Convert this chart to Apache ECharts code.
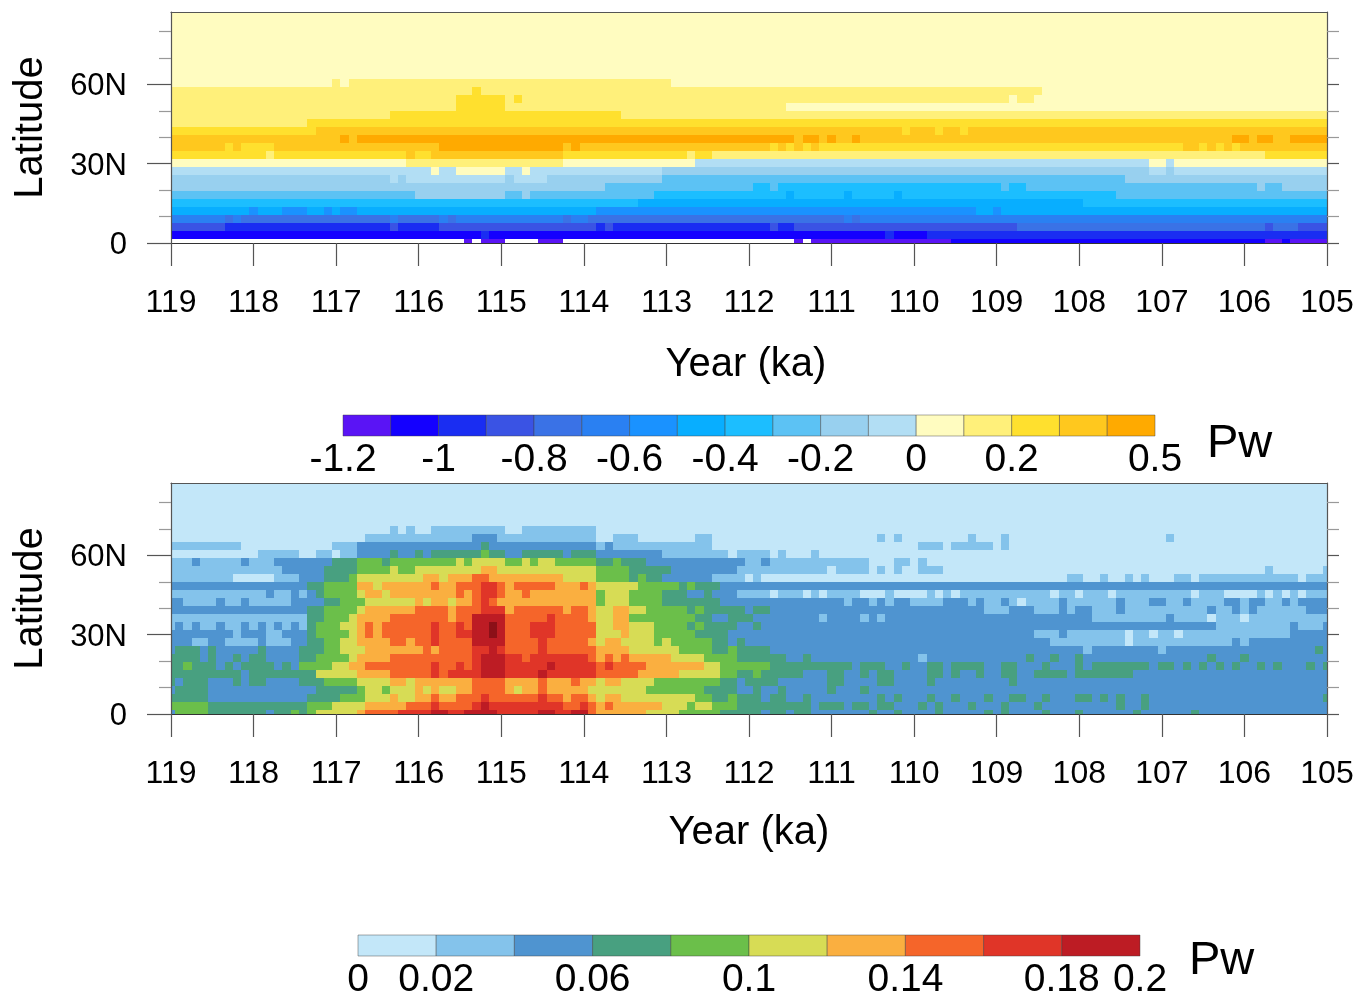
<!DOCTYPE html>
<html><head><meta charset="utf-8">
<style>html,body{margin:0;padding:0;background:#fff}#c{width:1357px;height:997px}</style>
<script src="https://cdn.jsdelivr.net/npm/echarts@6/dist/echarts.min.js"></script>
</head><body><div id="c"></div>
<script>
const years=[119,118.9,118.8,118.7,118.6,118.5,118.4,118.3,118.2,118.1,118,117.9,117.8,117.7,117.6,117.5,117.4,117.3,117.2,117.1,117,116.9,116.8,116.7,116.6,116.5,116.4,116.3,116.2,116.1,116,115.9,115.8,115.7,115.6,115.5,115.4,115.3,115.2,115.1,115,114.9,114.8,114.7,114.6,114.5,114.4,114.3,114.2,114.1,114,113.9,113.8,113.7,113.6,113.5,113.4,113.3,113.2,113.1,113,112.9,112.8,112.7,112.6,112.5,112.4,112.3,112.2,112.1,112,111.9,111.8,111.7,111.6,111.5,111.4,111.3,111.2,111.1,111,110.9,110.8,110.7,110.6,110.5,110.4,110.3,110.2,110.1,110,109.9,109.8,109.7,109.6,109.5,109.4,109.3,109.2,109.1,109,108.9,108.8,108.7,108.6,108.5,108.4,108.3,108.2,108.1,108,107.9,107.8,107.7,107.6,107.5,107.4,107.3,107.2,107.1,107,106.9,106.8,106.7,106.6,106.5,106.4,106.3,106.2,106.1,106,105.9,105.8,105.7,105.6,105.5,105.4,105.3,105.2,105.1,105];
const lats=[0,3.03,6.06,9.09,12.12,15.15,18.18,21.21,24.24,27.27,30.3,33.33,36.36,39.39,42.42,45.45,48.48,51.51,54.54,57.57,60.6,63.63,66.66,69.69,72.72,75.75,78.78,81.81,84.84,87.87];
const xTickYears=[119,118,117,116,115,114,113,112,111,110,109,108,107,106,105];
const latTicks=[0,30,60];
const topEdges=[-1.2,-1.1,-1,-0.9,-0.8,-0.7,-0.6,-0.5,-0.4,-0.3,-0.2,-0.1,0,0.1,0.2,0.3,0.4,0.5];
const topLabels=[-1.2,-1,-0.8,-0.6,-0.4,-0.2,0,0.2,0.5];
const bottomEdges=[0,0.02,0.04,0.06,0.08,0.1,0.12,0.14,0.16,0.18,0.2];
const bottomLabels=[0,0.02,0.06,0.1,0.14,0.18,0.2];
const topColors=['#5a14f5','#1400ff','#1a2df2','#3a53e4','#3a72e6','#2a80f2','#1a92ff','#08aeff','#1cbeff','#5cc2f4','#98d0ef','#b2def4','#fffcc0','#fff07a','#ffe02e','#ffc81e','#ffaa00'];
const bottomColors=['#c3e7f9','#84c3eb','#4f94d0','#48a080','#6bbf4a','#d7dc55','#faaf40','#f5652a','#e03528','#bd1c24','#8c1018'];
/* each row: first column, contour bin, first column, contour bin ... (row 0 = equator, null = no fill) */
const topRuns=[
[0,null,36,0,37,null,38,0,41,null,45,0,48,null,76,0,77,null,78,0,95,1,133,0,135,1,136,0],
[0,1,38,2,39,1,87,2,88,1,92,2],
[0,3,7,2,27,3,28,2,33,3,52,2,53,3,54,2,73,3,74,2,76,3,103,4,133,3,134,4,137,3],
[0,5,7,4,8,5,9,4,27,5,28,4,33,5,34,4,35,5,48,4,49,5,51,4,82,5,83,4,84,5],
[0,7,10,6,11,7,14,6,17,7,19,6,20,7,21,6,23,7,52,6,98,7,100,6,101,7],
[0,8,57,7,111,8],
[0,9,30,10,41,9,43,10,44,9,59,8,75,7,76,8,82,7,83,8,88,7,89,8,115,9],
[0,10,53,9,71,8,73,9,74,8,101,9,102,8,104,9,132,10,133,9,135,10],
[0,10,27,11,28,10,29,11,41,10,42,11,46,10,60,9,116,10],
[0,11,32,12,33,11,35,12,41,11,43,12,44,11,60,10,119,11,121,10,122,11],
[0,12,29,13,48,12,64,11,119,12,121,11,122,12],
[0,14,12,13,13,14,29,15,30,14,32,15,48,14,63,13,64,14,66,13,133,14],
[0,15,7,14,8,15,9,14,13,15,33,16,48,15,49,16,50,15,73,14,74,15,75,14,76,15,77,14,78,15,79,14,123,15,125,14,126,15,127,14,128,15,129,14,130,15],
[0,15,21,16,22,15,23,16,76,15,77,16,79,15,80,16,81,15,83,16,84,15,129,16,131,15,132,16,134,15,136,16],
[0,14,18,15,89,14,90,15,93,14,94,15,96,14,97,15],
[0,13,17,14],
[0,13,27,14,55,13],
[0,13,35,14,41,13,75,12],
[0,13,35,14,41,13,42,14,43,13,102,12,103,13,105,12],
[0,13,37,14,38,13,106,12],
[0,12,20,13,21,12,22,13,61,12],
[0,12],[0,12],[0,12],[0,12],[0,12],[0,12],[0,12],[0,12],[0,12]
];
const bottomRuns=[
[0,2,1,4,5,3,12,2,13,3,15,4,16,3,17,4,18,5,23,6,24,7,28,8,32,9,34,8,36,9,40,8,45,9,47,8,49,9,51,7,52,6,58,5,62,4,67,3,72,2,73,3,75,2,76,3,78,2,85,3,86,2,88,3,89,2,93,3,94,2,99,3,100,2,101,3,102,2,106,3,107,2,110,3,111,2,117,3,118,2,124,3,125,2],
[0,4,5,3,17,4,20,5,24,6,29,7,32,8,33,7,37,8,38,9,39,8,48,7,50,8,51,7,52,6,53,7,54,6,60,5,63,4,64,5,66,4,69,3,78,2,79,3,82,2,83,3,85,2,86,3,88,2,91,3,92,2,93,3,94,2,97,3,98,2,101,3,102,2,105,3,106,2,115,3,116,2,118,3,119,2],
[0,3,5,2,17,3,21,4,24,5,27,6,28,5,30,6,32,7,33,6,35,7,38,8,39,7,45,8,46,7,48,6,49,7,51,6,52,5,53,6,55,5,64,4,66,3,68,4,69,3,72,2,73,3,75,2,77,3,78,2,86,3,87,2,88,3,89,2,92,3,93,2,95,3,96,2,99,3,100,2,102,3,104,2,106,3,107,2,110,3,112,2,113,3,114,2,115,3,116,2,118,3,119,2,140,3],
[0,2,1,3,5,2,18,3,23,4,24,5,26,4,27,5,30,6,31,5,32,6,33,5,35,6,37,7,41,6,42,5,43,6,45,7,46,6,51,5,58,4,65,3,69,2,71,3,72,2,74,3,75,2,80,3,81,2,84,3,85,2],
[0,3,1,2,2,3,5,2,8,3,9,2,10,3,12,2,16,3,19,4,23,5,27,6,29,5,30,6,37,7,41,6,45,7,46,6,49,7,50,6,52,5,53,6,55,5,59,4,67,3,69,2,70,3,74,2,80,3,82,2,86,3,88,2,92,3,93,2,102,3,103,2],
[0,3,9,2,10,3,18,5,23,6,27,7,32,8,33,7,34,8,38,9,41,8,45,9,46,8,52,7,57,6,62,5,67,4,69,3,71,4,72,3,77,2,80,3,82,2,84,3,85,2,86,3,88,2,92,3,94,2,95,3,96,2,98,3,99,2,101,3,103,2,105,3,109,2,110,3,117,2],
[0,3,2,4,3,3,6,2,7,3,8,2,9,3,13,2,14,3,15,2,16,4,20,5,22,6,24,7,32,8,33,7,35,8,36,7,37,8,38,9,41,8,46,9,47,8,52,7,53,8,54,7,58,6,65,5,67,4,73,3,83,2,84,3,87,2,89,3,90,2,92,3,94,2,95,3,99,2,101,3,103,2,106,3,107,2,110,3,111,2,112,3,119,2,120,3,122,2,123,3,124,2,125,3,126,2,127,3,128,2,129,3,130,2,132,3,133,2,134,3,135,2,138,3,139,2,140,3],
[0,3,4,2,5,3,6,2,8,3,9,2,10,3,12,2,16,3,18,4,22,5,23,6,27,7,37,8,38,9,41,8,43,7,44,8,51,7,52,6,53,7,54,6,55,7,56,6,61,5,65,4,69,3,75,2,77,3,78,2,91,1,92,2,104,3,105,2,107,3,108,2,110,3,111,2,126,3,127,2,130,3,131,2],
[0,2,1,3,4,2,5,3,6,2,11,3,12,2,16,3,19,4,21,5,24,6,31,7,32,6,33,7,37,8,39,9,40,8,41,7,45,8,46,7,52,6,56,5,62,4,66,3,68,4,69,3,73,2,111,1,112,2,120,1,121,2,139,3,140,2],
[0,2,3,1,5,2,7,1,11,2,12,1,15,2,17,3,19,4,21,5,23,6,27,7,29,6,30,7,32,8,33,7,37,9,41,7,45,8,46,7,51,6,52,5,53,6,55,5,59,4,60,5,61,4,66,3,68,2,69,3,70,2,107,1,116,0,117,1,129,2,130,1,131,2],
[0,2,8,1,9,2,12,1,14,2,17,3,18,4,22,5,23,6,24,7,25,6,26,7,32,8,33,7,35,8,37,9,39,10,40,9,41,7,44,8,47,7,52,5,55,6,56,5,59,4,64,3,68,2,105,1,108,2,109,1,116,0,117,1,119,0,120,1,122,0,123,1,136,2],
[0,1,1,2,2,1,3,2,4,1,6,2,7,1,9,2,10,1,11,2,12,1,13,2,14,1,15,2,16,1,17,3,18,4,21,5,23,6,24,7,25,6,26,7,32,8,33,7,35,8,36,7,37,9,39,10,40,9,41,7,44,8,47,7,52,5,54,6,56,5,59,4,63,3,64,4,65,3,69,2,71,3,72,2,127,1,136,2,137,1,140,2],
[0,1,17,3,19,4,22,5,23,6,27,7,34,6,35,7,37,9,41,7,46,8,47,7,51,6,52,5,54,6,56,4,64,3,66,2,68,3,71,2,79,1,80,2,84,1,85,2,86,1,87,2,112,1,121,2,122,1,126,0,127,1,130,0,131,1],
[0,2,17,3,19,4,23,5,24,6,30,7,34,6,35,7,38,8,41,6,42,7,48,6,49,7,51,6,52,5,54,6,56,5,58,4,63,3,64,4,65,3,70,2,71,3,73,2,99,1,102,2,105,1,108,2,109,1,110,2,112,1,115,2,116,1,126,2,127,1,129,2,130,1,131,2,132,1,138,2],
[0,2,2,1,6,2,7,1,9,2,10,1,15,2,19,3,21,4,24,5,30,6,31,5,32,6,34,5,35,6,37,7,38,8,39,7,40,6,52,4,53,5,56,4,60,3,67,2,82,1,83,2,85,1,86,2,87,1,88,2,90,1,94,2,97,1,98,2,99,1,101,2,102,1,103,0,104,1,108,2,109,1,115,2,116,1,119,2,121,1,123,2,124,1,128,2,130,1,131,2,133,1,135,2,136,1,137,2],
[0,1,12,2,13,1,15,2,16,1,17,2,18,3,19,4,23,5,24,6,26,5,27,6,35,7,36,6,37,7,38,8,40,7,41,6,43,7,44,6,52,4,53,5,56,4,60,3,63,2,65,3,66,2,69,1,73,0,74,1,77,0,78,1,79,0,80,1,84,0,87,1,88,0,92,1,93,0,94,1,95,0,96,1,107,0,108,1,110,0,111,1,114,0,115,1,124,0,125,1,128,0,132,1,133,0,134,1,135,0,136,1,137,0,138,1],
[0,2,17,3,19,4,23,6,25,5,26,6,32,7,33,6,35,7,38,8,40,7,41,6,42,7,47,6,50,7,51,6,52,5,57,4,62,3,63,4,64,3,67,2],
[0,1,8,0,13,1,16,2,19,3,22,4,23,5,31,6,33,5,34,6,37,7,39,6,48,5,52,4,56,3,57,4,58,3,60,2,66,1,70,0,71,1,72,0,109,1,111,0,113,1,114,0,116,1,117,0,118,1,119,0,122,1,124,0,125,1,137,0,138,1],
[0,1,14,2,19,3,23,4,27,5,28,4,30,5,38,6,40,5,52,4,56,3,61,2,69,1,80,0,81,1,85,0,86,1,87,0,88,1,89,0,91,1,94,0,133,1,134,0,140,1],
[0,1,3,2,4,1,9,2,10,1,13,2,20,3,23,4,26,3,27,4,35,5,36,4,37,5,41,4,43,5,44,4,45,5,47,4,52,3,54,4,55,3,58,2,70,1,72,2,73,1,85,0,88,1,90,0,91,1,92,0],
[0,0,11,1,16,0,18,1,20,0,21,1,23,2,27,3,28,2,30,3,31,2,32,3,38,4,39,3,41,2,43,3,48,2,49,3,52,2,60,1,68,0,69,1,73,0,74,1,75,0,78,1,79,0],
[0,1,9,0,20,1,23,2,38,3,39,2,52,1,53,2,54,1,66,0,91,1,94,0,95,1,100,0,101,1,102,0],
[0,0,24,1,37,2,40,1,52,0,54,1,57,0,64,1,66,0,86,1,87,0,88,1,89,0,97,1,98,0,101,1,102,0,121,1,122,0],
[0,0,27,1,28,0,29,1,30,0,32,1,41,0,43,1,52,0],
[0,0],[0,0],[0,0],[0,0],[0,0],[0,0]
];

function expand(runs){
  const out=[];
  runs.forEach((r,row)=>{
    for(let i=0;i<r.length;i+=2){
      const end=i+2<r.length?r[i+2]:years.length;
      if(r[i+1]===null)continue;
      for(let c=r[i];c<end;c++)out.push([years[c],lats[row],r[i+1]]);
    }
  });
  return out;
}
function cellItem(colors){
  return function(params,api){
    const x=api.value(0),y=api.value(1),bin=api.value(2);
    const a=api.coord([x+0.05,y+1.515]),b=api.coord([x-0.05,y-1.515]);
    const cs=params.coordSys;
    const shape=echarts.graphic.clipRectByRect(
      {x:a[0],y:a[1],width:b[0]-a[0],height:b[1]-a[1]},
      {x:cs.x,y:cs.y,width:cs.width,height:cs.height});
    if(!shape)return null;
    const x0=Math.round(shape.x),y0=Math.round(shape.y),x1=Math.round(shape.x+shape.width),y1=Math.round(shape.y+shape.height);
    return {type:'rect',shape:{x:x0,y:y0,width:x1-x0,height:y1-y0},style:{fill:colors[bin]}};
  };
}
function boxItem(colors){
  return function(params,api){
    const a=api.coord([api.value(0),1]),b=api.coord([api.value(1),0]);
    return {type:'rect',shape:{x:a[0],y:a[1],width:b[0]-a[0],height:b[1]-a[1]},
      style:{fill:colors[api.value(2)],stroke:'rgba(60,60,60,0.55)',lineWidth:0.8}};
  };
}
const FONT='"Liberation Sans",Arial,sans-serif';
const axisCol='#555';
function panelAxes(gi,xNamePad){
  return {
    x:{gridIndex:gi,type:'value',min:105,max:119,inverse:true,interval:1,position:'bottom',z:5,
      axisLine:{onZero:false,lineStyle:{color:'#333',width:1.2}},
      axisTick:{length:23,lineStyle:{color:axisCol,width:1.2},customValues:xTickYears},
      axisLabel:{margin:44,fontSize:32,color:'#000',fontFamily:FONT,customValues:xTickYears,formatter:v=>String(v)},
      splitLine:{show:false},
      name:'Year (ka)',nameLocation:'middle',nameGap:gi===0?102:99,
      nameTextStyle:{fontSize:40,color:'#000',fontFamily:FONT,padding:xNamePad}},
    yl:{gridIndex:gi,type:'value',min:0,max:87.4,interval:30,position:'left',z:5,
      axisLine:{show:true,onZero:false,lineStyle:{color:axisCol,width:1.2}},
      axisTick:{length:24,lineStyle:{color:axisCol,width:1.2},customValues:latTicks},
      minorTick:{show:true,splitNumber:3,length:12,lineStyle:{color:'#999',width:1.2}},
      axisLabel:{margin:44,color:'#000',customValues:latTicks,
        formatter:v=>'{a|'+(v===0?'0':v+'N')+'}',
        rich:{a:{fontSize:31,color:'#000',fontFamily:FONT,padding:[5,0,0,0]}}},
      splitLine:{show:false},
      name:'Latitude',nameLocation:'middle',nameRotate:90,nameGap:120,
      nameTextStyle:{fontSize:40,color:'#000',fontFamily:FONT}},
    yr:{gridIndex:gi,type:'value',min:0,max:87.4,interval:30,position:'right',z:5,
      axisLine:{show:true,onZero:false,lineStyle:{color:axisCol,width:1.2}},
      axisTick:{length:12,lineStyle:{color:axisCol,width:1.2},customValues:latTicks},
      minorTick:{show:true,splitNumber:3,length:12,lineStyle:{color:'#999',width:1.2}},
      axisLabel:{show:false},splitLine:{show:false}}
  };
}
const p0=panelAxes(0,[0,6,0,0]),p1=panelAxes(1,[0,0,0,0]);
function barX(gi,min,max,labels){
  return {gridIndex:gi,type:'value',min:min,max:max,position:'bottom',
    axisLine:{show:false},axisTick:{show:false},splitLine:{show:false},
    axisLabel:{show:true,margin:5,fontSize:39,color:'#000',fontFamily:FONT,customValues:labels,formatter:v=>String(v)}};
}
function barY(gi){return {gridIndex:gi,type:'value',min:0,max:1,show:false};}
function boxes(edges){return edges.slice(0,-1).map((e,i)=>[e,edges[i+1],i]);}
const chart=echarts.init(document.getElementById('c'),null,{renderer:'canvas'});
chart.setOption({
  animation:false,backgroundColor:'#fff',
  grid:[
    {left:171,top:12,width:1156,height:231,outerBoundsMode:'none'},
    {left:171,top:483,width:1156,height:231,outerBoundsMode:'none'},
    {left:343,top:415,width:812,height:21,outerBoundsMode:'none'},
    {left:358,top:935,width:782,height:21,outerBoundsMode:'none'}
  ],
  xAxis:[p0.x,p1.x,barX(2,-1.2,0.5,topLabels),barX(3,0,0.2,bottomLabels),
    {...p0.x,position:'top',axisTick:{show:false},axisLabel:{show:false},name:'',axisLine:{show:true,onZero:false,lineStyle:{color:axisCol,width:1.2}}},
    {...p1.x,position:'top',axisTick:{show:false},axisLabel:{show:false},name:'',axisLine:{show:true,onZero:false,lineStyle:{color:axisCol,width:1.2}}}],
  yAxis:[p0.yl,p1.yl,barY(2),barY(3),p0.yr,p1.yr],
  series:[
    {type:'custom',xAxisIndex:0,yAxisIndex:0,data:expand(topRuns),renderItem:cellItem(topColors),z:1,silent:true},
    {type:'custom',xAxisIndex:1,yAxisIndex:1,data:expand(bottomRuns),renderItem:cellItem(bottomColors),z:1,silent:true},
    {type:'custom',xAxisIndex:2,yAxisIndex:2,data:boxes(topEdges),renderItem:boxItem(topColors),silent:true},
    {type:'custom',xAxisIndex:3,yAxisIndex:3,data:boxes(bottomEdges),renderItem:boxItem(bottomColors),silent:true}
  ],
  graphic:[
    {type:'text',left:1207,top:421,style:{text:'Pw',font:'47px "Liberation Sans"',fill:'#000'}},
    {type:'text',left:1189,top:938,style:{text:'Pw',font:'47px "Liberation Sans"',fill:'#000'}}
  ]
});
</script></body></html>
